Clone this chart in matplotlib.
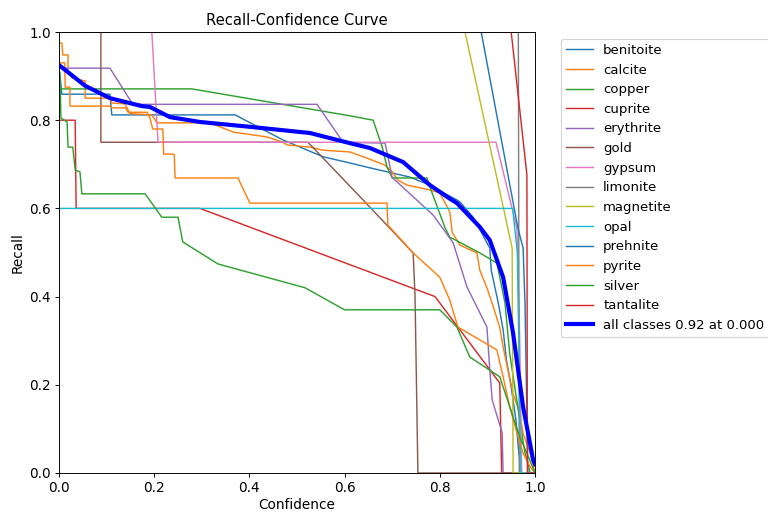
import matplotlib
matplotlib.use("Agg")
import matplotlib.pyplot as plt

plt.rcParams["font.size"] = 11.5

names = ["benitoite", "calcite", "copper", "cuprite", "erythrite", "gold", "gypsum",
         "limonite", "magnetite", "opal", "prehnite", "pyrite", "silver", "tantalite"]

benitoite_x = [0.0, 0.002, 0.006, 0.107, 0.111, 0.37, 0.471, 0.555, 0.611, 0.653, 0.737, 0.779, 0.836, 0.842,
               0.87, 0.905, 0.908, 0.923, 0.933, 0.94, 0.95, 0.96, 0.966, 0.972, 1.0]
benitoite_y = [0.902, 0.902, 0.859, 0.859, 0.812, 0.812, 0.755, 0.717, 0.703, 0.692, 0.671, 0.653, 0.619, 0.615,
               0.58, 0.51, 0.46, 0.385, 0.325, 0.256, 0.195, 0.12, 0.045, 0.0, 0.0]

calcite_x = [0.0, 0.006, 0.008, 0.019, 0.019, 0.027, 0.055, 0.055, 0.107, 0.111, 0.139, 0.149, 0.195, 0.206,
             0.317, 0.366, 0.437, 0.471, 0.479, 0.527, 0.555, 0.611, 0.647, 0.685, 0.70, 0.712, 0.731, 0.779,
             0.80, 0.821, 0.826, 0.842, 0.878, 0.884, 0.899, 0.91, 0.926, 0.933, 0.943, 0.954, 0.968, 0.975,
             0.99, 1.0]
calcite_y = [0.975, 0.975, 0.948, 0.948, 0.91, 0.896, 0.889, 0.85, 0.85, 0.839, 0.837, 0.815, 0.812, 0.794,
             0.794, 0.773, 0.762, 0.75, 0.744, 0.739, 0.732, 0.728, 0.714, 0.698, 0.683, 0.664, 0.653, 0.642,
             0.635, 0.592, 0.546, 0.517, 0.499, 0.46, 0.42, 0.385, 0.33, 0.286, 0.234, 0.18, 0.136, 0.09,
             0.045, 0.0]

copper_x = [0.0, 0.279, 0.611, 0.66, 0.679, 0.689, 0.70, 0.773, 0.779, 0.811, 0.821, 0.884, 0.92, 0.937,
            0.947, 0.968, 0.979, 0.99, 1.0]
copper_y = [0.871, 0.871, 0.81, 0.80, 0.739, 0.694, 0.669, 0.669, 0.649, 0.556, 0.535, 0.499, 0.476, 0.385,
            0.27, 0.12, 0.045, 0.0, 0.0]

cuprite_x = [0.0, 0.034, 0.036, 0.296, 0.79, 0.926, 0.93, 1.0]
cuprite_y = [0.80, 0.80, 0.60, 0.60, 0.40, 0.204, 0.0, 0.0]

erythrite_x = [0.0, 0.107, 0.155, 0.542, 0.597, 0.685, 0.70, 0.786, 0.828, 0.857, 0.899, 0.905, 0.91, 0.931,
               0.933, 1.0]
erythrite_y = [0.918, 0.918, 0.836, 0.836, 0.75, 0.748, 0.67, 0.585, 0.522, 0.422, 0.331, 0.234, 0.166, 0.091,
               0.0, 0.0]

gold_x = [0.0, 0.088, 0.088, 0.523, 0.639, 0.744, 0.748, 0.754, 1.0]
gold_y = [1.0, 1.0, 0.75, 0.75, 0.619, 0.499, 0.40, 0.0, 0.0]

gypsum_x = [0.0, 0.195, 0.208, 0.918, 0.962, 0.968, 0.972, 1.0]
gypsum_y = [1.0, 1.0, 0.75, 0.75, 0.555, 0.30, 0.0, 0.0]

limonite_x = [0.0, 0.965, 0.967, 1.0]
limonite_y = [1.0, 1.0, 0.0, 0.0]

magnetite_x = [0.0, 0.853, 0.952, 0.954, 1.0]
magnetite_y = [1.0, 1.0, 0.51, 0.0, 0.0]

opal_x = [0.0, 0.953, 0.963, 0.97, 1.0]
opal_y = [0.60, 0.60, 0.50, 0.0, 0.0]

prehnite_x = [0.0, 0.887, 0.964, 0.975, 0.979, 0.985, 1.0]
prehnite_y = [1.0, 1.0, 0.556, 0.51, 0.385, 0.0, 0.0]

pyrite_x = [0.0, 0.012, 0.013, 0.023, 0.023, 0.107, 0.111, 0.14, 0.145, 0.185, 0.191, 0.197, 0.218, 0.22,
            0.242, 0.244, 0.376, 0.401, 0.689, 0.691, 0.744, 0.80, 0.821, 0.838, 0.92, 0.933, 0.947, 0.962,
            0.975, 0.99, 1.0]
pyrite_y = [0.93, 0.93, 0.875, 0.875, 0.832, 0.832, 0.828, 0.828, 0.818, 0.818, 0.805, 0.78, 0.78, 0.723,
            0.723, 0.669, 0.669, 0.612, 0.612, 0.562, 0.499, 0.444, 0.392, 0.331, 0.279, 0.218, 0.15, 0.091,
            0.045, 0.014, 0.0]

silver_x = [0.0, 0.002, 0.004, 0.017, 0.019, 0.029, 0.034, 0.044, 0.048, 0.181, 0.216, 0.25, 0.26, 0.334,
            0.517, 0.60, 0.80, 0.836, 0.863, 0.926, 0.947, 0.968, 0.983, 1.0]
silver_y = [0.909, 0.909, 0.805, 0.796, 0.739, 0.739, 0.687, 0.683, 0.633, 0.633, 0.58, 0.58, 0.524, 0.474,
            0.42, 0.37, 0.37, 0.331, 0.263, 0.218, 0.15, 0.082, 0.045, 0.0]

tantalite_x = [0.0, 0.95, 0.983, 0.984, 1.0]
tantalite_y = [1.0, 1.0, 0.676, 0.0, 0.0]

mean_x = [0.0, 0.055, 0.107, 0.174, 0.191, 0.233, 0.296, 0.401, 0.527, 0.611, 0.653, 0.723, 0.779, 0.821,
          0.836, 0.884, 0.905, 0.933, 0.954, 0.975, 0.996, 1.0]
mean_y = [0.925, 0.878, 0.85, 0.832, 0.830, 0.807, 0.796, 0.785, 0.771, 0.748, 0.737, 0.705, 0.653, 0.622,
          0.612, 0.558, 0.528, 0.444, 0.317, 0.15, 0.03, 0.02]
mean_label = "all classes 0.92 at 0.000"

curves = [(benitoite_x, benitoite_y), (calcite_x, calcite_y), (copper_x, copper_y), (cuprite_x, cuprite_y),
          (erythrite_x, erythrite_y), (gold_x, gold_y), (gypsum_x, gypsum_y), (limonite_x, limonite_y),
          (magnetite_x, magnetite_y), (opal_x, opal_y), (prehnite_x, prehnite_y), (pyrite_x, pyrite_y),
          (silver_x, silver_y), (tantalite_x, tantalite_y)]

fig = plt.figure(figsize=(9, 6), dpi=768 / 9)
ax = fig.add_axes([59 / 768, 1 - 473 / 512, 476 / 768, 441 / 512])
for name, (xs, ys) in zip(names, curves):
    ax.plot(xs, ys, linewidth=1.2, label=name)
ax.plot(mean_x, mean_y, linewidth=3.5, color="blue", label=mean_label)
ax.set_xlabel("Confidence", labelpad=2.5)
ax.set_ylabel("Recall")
ax.set_xlim(0, 1)
ax.set_ylim(0, 1)
ax.set_title("Recall-Confidence Curve", fontsize=12.5)
ax.legend(bbox_to_anchor=(1.04, 1), loc="upper left", fontsize=11.2, labelspacing=0.5)
fig.savefig("out.png", dpi=768 / 9)
